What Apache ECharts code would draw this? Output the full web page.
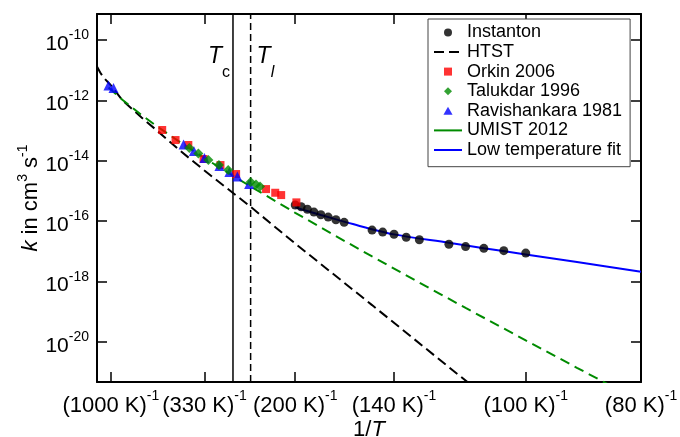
<!DOCTYPE html>
<html><head><meta charset="utf-8">
<script src="https://cdn.jsdelivr.net/npm/echarts@6/dist/echarts.min.js"></script>
<style>html,body{margin:0;padding:0;background:#fff}#c{width:680px;height:437px}</style>
</head><body><div id="c"></div>
<script>
// ---- tick labels ----
const xTickT = [1000, 330, 200, 140, 100, 80];          // K, shown as (T K)^-1
const yTickExp = [-20, -18, -16, -14, -12, -10];        // powers of ten

// ---- series values: temperature (K) and rate constant k (cm^3 s^-1) ----
const instantonT = [200, 195, 190, 185, 180, 175, 170, 165, 150, 145, 140, 135, 130, 120, 115, 110, 105, 100];
const instantonK = [3.40e-16, 2.99e-16, 2.47e-16, 1.99e-16, 1.62e-16, 1.36e-16, 1.11e-16, 9.08e-17, 5.04e-17, 4.33e-17, 3.66e-17, 2.91e-17, 2.40e-17, 1.71e-17, 1.43e-17, 1.25e-17, 1.05e-17, 8.71e-18];

const htstT = [1430, 1300, 1200, 1000, 800, 600, 500, 400, 330, 300, 250, 200, 150, 120, 110];
const htstK = [1.32e-11, 8.37e-12, 5.94e-12, 3.15e-12, 1.01e-12, 2.70e-13, 1.00e-13, 2.17e-14, 4.73e-15, 2.04e-15, 3.27e-16, 1.80e-17, 1.65e-19, 1.45e-21, 1.71e-22];

const orkinT = [473, 416, 373, 332, 296, 269, 229, 219, 213, 199];
const orkinK = [1.04e-13, 4.84e-14, 3.31e-14, 1.14e-14, 7.19e-15, 3.62e-15, 1.15e-15, 8.69e-16, 7.28e-16, 4.17e-16];

const talukdarT = [370, 345, 321, 299, 282, 248, 241, 236];
const talukdarK = [2.63e-14, 1.73e-14, 1.05e-14, 7.19e-15, 4.91e-15, 1.96e-15, 1.62e-15, 1.39e-15];

const ravishankaraT = [1054, 945, 388, 357, 330, 298, 280, 267, 250];
const ravishankaraK = [3.10e-12, 2.56e-12, 3.44e-14, 2.09e-14, 1.23e-14, 6.67e-15, 4.22e-15, 2.99e-15, 1.69e-15];

const umistT = [1050, 800, 600, 500, 400, 330, 300, 250, 200, 170, 150, 130, 115, 100, 90, 80];
const umistK = [2.64e-12, 1.04e-12, 3.26e-13, 1.38e-13, 4.14e-14, 1.23e-14, 6.30e-15, 1.50e-15, 1.88e-16, 3.18e-17, 6.73e-18, 9.14e-19, 1.33e-19, 1.12e-20, 1.38e-21, 1.04e-22];

const fitT = [200, 180, 160, 140, 120, 110, 100, 90, 80];
const fitK = [2.85e-16, 1.60e-16, 7.96e-17, 3.63e-17, 1.93e-17, 1.26e-17, 7.89e-18, 4.39e-18, 2.09e-18];

// crossover temperatures
const T_C = 274;
const T_L = 248;

// ---- build ----
const FONT = '"Liberation Sans", Arial, Helvetica, sans-serif';
const pts = (T, K) => T.map((t, i) => [1 / t, Math.log10(K[i])]);
const xTicks = xTickT.map(t => 1 / t);
const X_MIN = 0.0007, X_MAX = 0.0125, Y_MIN = -21.33, Y_MAX = -9.14;
const LABEL_Y = -10.56;

const frameLine = { show: true, onZero: false, lineStyle: { color: '#000', width: 2 } };
const tickX = { show: true, inside: true, length: 10, customValues: xTicks, lineStyle: { color: '#000', width: 1.5 } };
const tickY = { show: true, inside: true, length: 10, customValues: yTickExp, lineStyle: { color: '#000', width: 1.5 } };
const hideSym = { opacity: 0 };

const option = {
  animation: false,
  backgroundColor: '#fff',
  textStyle: { fontFamily: FONT, color: '#000' },
  grid: { left: 97, right: 39, top: 14, bottom: 55, containLabel: false, outerBoundsMode: 'none' },
  legend: {
    orient: 'vertical', left: 428, top: 19,
    padding: [3.6, 8, 6.9, 5],
    itemWidth: 28, itemHeight: 8, itemGap: 0,
    selectedMode: false, symbolKeepAspect: true,
    backgroundColor: '#fff', borderColor: '#444', borderWidth: 1,
    textStyle: { fontSize: 18, lineHeight: 19.6, fontFamily: FONT, color: '#000' },
    data: ['Instanton',
      { name: 'HTST', itemStyle: hideSym },
      { name: 'Orkin 2006', icon: 'path://M0,0L1,0L1,1L0,1Z' },
      { name: 'Talukdar 1996', icon: 'path://M1,0L2,1L1,2L0,1Z' },
      { name: 'Ravishankara 1981', icon: 'path://M1,0L2,1.75L0,1.75Z' },
      { name: 'UMIST 2012', itemStyle: hideSym, lineStyle: { type: 'solid' } },
      { name: 'Low temperature fit', itemStyle: hideSym }]
  },
  xAxis: [{
    type: 'value', min: X_MIN, max: X_MAX, position: 'bottom',
    axisLine: frameLine, axisTick: tickX, splitLine: { show: false },
    axisLabel: {
      customValues: xTicks, margin: 7,
      formatter: v => '{b|(' + Math.round(1 / v) + ' K)}{sup|-1}',
      rich: {
        b: { fontSize: 22, lineHeight: 34, fontFamily: FONT, color: '#000' },
        sup: { fontSize: 14, lineHeight: 14, verticalAlign: 'top', fontFamily: FONT, color: '#000' }
      }
    },
    name: '1/{i|T}', nameLocation: 'middle', nameGap: 37, nameMoveOverlap: false,
    nameTextStyle: { fontSize: 22, fontFamily: FONT, color: '#000',
      rich: { i: { fontSize: 22, fontStyle: 'italic', fontFamily: FONT, color: '#000' } } }
  }, {
    type: 'value', min: X_MIN, max: X_MAX, position: 'top',
    axisLine: frameLine, axisTick: tickX, splitLine: { show: false }, axisLabel: { show: false }
  }],
  yAxis: [{
    type: 'value', min: Y_MIN, max: Y_MAX, position: 'left',
    axisLine: frameLine, axisTick: tickY, splitLine: { show: false },
    axisLabel: {
      customValues: yTickExp, margin: 8, padding: [8, 0, 0, 0],
      formatter: v => '{b|10}{sup|' + v + '}',
      rich: {
        b: { fontSize: 21, lineHeight: 31, fontFamily: FONT, color: '#000' },
        sup: { fontSize: 14, lineHeight: 14, verticalAlign: 'top', fontFamily: FONT, color: '#000' }
      }
    },
    name: '{i|k} in cm{sup|3} s{sup|-1}', nameLocation: 'middle', nameGap: 51, nameRotate: 90, nameMoveOverlap: false,
    nameTextStyle: { fontSize: 22, lineHeight: 30, fontFamily: FONT, color: '#000',
      rich: {
        i: { fontSize: 22, lineHeight: 30, fontStyle: 'italic', fontFamily: FONT, color: '#000' },
        sup: { fontSize: 14, lineHeight: 14, verticalAlign: 'top', fontFamily: FONT, color: '#000' }
      } }
  }, {
    type: 'value', min: Y_MIN, max: Y_MAX, position: 'right',
    axisLine: frameLine, axisTick: tickY, splitLine: { show: false }, axisLabel: { show: false }
  }],
  series: [
    {
      name: 'Tc', type: 'line', data: [[1 / T_C, Y_MIN], [1 / T_C, Y_MAX]], symbol: 'none', z: 1, silent: true,
      lineStyle: { color: '#000', width: 1.5, type: 'solid' },
      markPoint: {
        silent: true, symbol: 'circle', symbolSize: 0, animation: false,
        itemStyle: { color: 'rgba(0,0,0,0)' },
        data: [
          { coord: [1 / T_C, LABEL_Y], label: { show: true, position: 'left', distance: 3, formatter: '{t|T}{s|c}' } },
          { coord: [1 / T_L, LABEL_Y], label: { show: true, position: 'right', distance: 6, formatter: '{t|T}{si|l}' } }
        ],
        label: {
          rich: {
            t: { fontSize: 23, lineHeight: 48, fontStyle: 'italic', fontFamily: FONT, color: '#000' },
            s: { fontSize: 16, lineHeight: 16, verticalAlign: 'bottom', fontFamily: FONT, color: '#000' },
            si: { fontSize: 16, lineHeight: 16, verticalAlign: 'bottom', fontStyle: 'italic', fontFamily: FONT, color: '#000' }
          }
        }
      }
    },
    {
      name: 'Tl', type: 'line', data: [[1 / T_L, Y_MIN], [1 / T_L, Y_MAX]], symbol: 'none', z: 1, silent: true,
      lineStyle: { color: '#000', width: 1.5, type: [7, 4] }
    },
    {
      name: 'HTST', type: 'line', data: pts(htstT, htstK), symbol: 'none', z: 2,
      lineStyle: { color: '#000', width: 2, type: [10, 5] }, itemStyle: { color: '#000' }
    },
    {
      name: 'UMIST 2012', type: 'line', data: pts(umistT, umistK), symbol: 'none', z: 2,
      lineStyle: { color: '#008b00', width: 2, type: [10, 6] }, itemStyle: { color: '#008b00' }
    },
    {
      name: 'Low temperature fit', type: 'line', data: pts(fitT, fitK), symbol: 'none', z: 2, smooth: 0.3,
      lineStyle: { color: '#0000ff', width: 2 }, itemStyle: { color: '#0000ff' }
    },
    {
      name: 'Instanton', type: 'scatter', data: pts(instantonT, instantonK), symbol: 'circle', symbolSize: 9, z: 3,
      itemStyle: { color: '#000' }
    },
    {
      name: 'Orkin 2006', type: 'scatter', data: pts(orkinT, orkinK), symbol: 'rect', symbolSize: 8, z: 4,
      itemStyle: { color: '#ff0000' }
    },
    {
      name: 'Ravishankara 1981', type: 'scatter', data: pts(ravishankaraT, ravishankaraK), symbol: 'triangle', symbolSize: 10, z: 5,
      itemStyle: { color: '#0000ff' }
    },
    {
      name: 'Talukdar 1996', type: 'scatter', data: pts(talukdarT, talukdarK), symbol: 'diamond', symbolSize: 10, z: 6,
      itemStyle: { color: '#008b00' }
    }
  ]
};

const chart = echarts.init(document.getElementById('c'), null, { renderer: 'canvas' });
chart.setOption(option);
</script>
</body></html>
